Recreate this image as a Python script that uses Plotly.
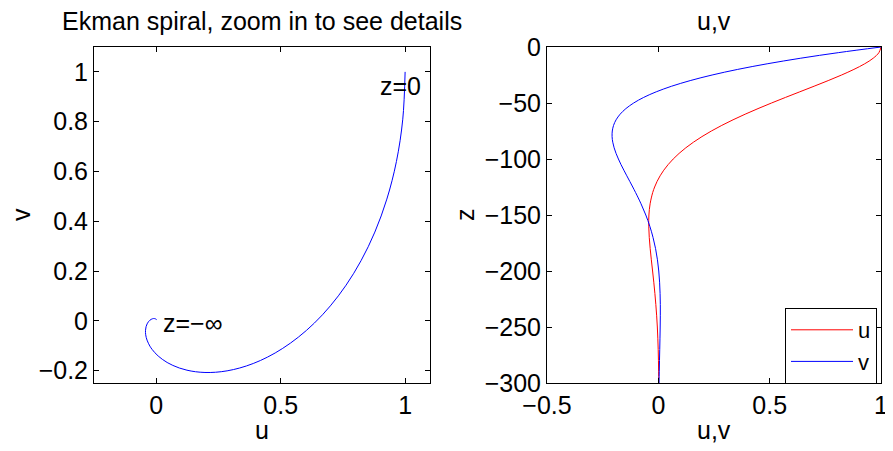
import plotly.graph_objects as go

# depth (m) and velocity components
z = [0, -5, -10, -15, -20, -25, -30, -35, -40, -45, -50, -55, -60, -65, -70,
     -75, -80, -85, -90, -95, -100, -105, -110, -115, -120, -125, -130, -140,
     -150, -160, -170, -180, -190, -200, -210, -220, -230, -240, -250, -260,
     -270, -280, -290, -300]
u = [1.0, 0.9906, 0.9651, 0.9266, 0.8784, 0.8230, 0.7628, 0.6997, 0.6354,
     0.5712, 0.5083, 0.4477, 0.3899, 0.3355, 0.2849, 0.2383, 0.1959, 0.1577,
     0.1234, 0.0932, 0.0667, 0.0439, 0.0244, 0.0080, -0.0056, -0.0166,
     -0.0254, -0.0369, -0.0423, -0.0431, -0.0408, -0.0366, -0.0314, -0.0258,
     -0.0204, -0.0155, -0.0112, -0.0075, -0.0045, -0.0023, -0.0006, 0.0005,
     0.0013, 0.0017]
v = [1.0, 0.8100, 0.6397, 0.4888, 0.3564, 0.2415, 0.1431, 0.0599, -0.0093,
     -0.0657, -0.1108, -0.1457, -0.1716, -0.1897, -0.2011, -0.2068, -0.2077,
     -0.2047, -0.1985, -0.1899, -0.1793, -0.1676, -0.1548, -0.1416, -0.1282,
     -0.1149, -0.1020, -0.0777, -0.0563, -0.0383, -0.0238, -0.0124, -0.0040,
     0.0019, 0.0057, 0.0079, 0.0089, 0.0089, 0.0083, 0.0074, 0.0063, 0.0052,
     0.0041, 0.0031]

left_xticks = [0, 0.5, 1]
left_yticks = [-0.2, 0, 0.2, 0.4, 0.6, 0.8, 1]
right_xticks = [-0.5, 0, 0.5, 1]
right_yticks = [-300, -250, -200, -150, -100, -50, 0]

W, H = 877, 435
OFF = 8  # page body margin
FONT = "Liberation Sans, Arial, sans-serif"
FS = 25


def px(x):
    return (x - OFF) / W


def py(y):
    return 1 - (y - OFF) / H


fig = go.Figure()
fig.add_trace(go.Scatter(x=u, y=v, mode="lines", line=dict(color="#0000ff", width=1, shape="spline"),
                         showlegend=False, xaxis="x", yaxis="y"))
fig.add_trace(go.Scatter(x=u, y=z, mode="lines", name="u", line=dict(color="#ff0000", width=1, shape="spline"),
                         xaxis="x2", yaxis="y2"))
fig.add_trace(go.Scatter(x=v, y=z, mode="lines", name="v", line=dict(color="#0000ff", width=1, shape="spline"),
                         xaxis="x2", yaxis="y2"))

axcommon = dict(showline=True, linecolor="black", linewidth=1, mirror="ticks", ticks="inside",
                ticklen=5, tickcolor="black", showgrid=False, zeroline=False, automargin=False,
                ticklabeloverflow="allow",
                tickfont=dict(family=FONT, size=FS, color="black"))

top, bottom = 47, 383
fig.update_layout(
    width=W, height=H, margin=dict(l=0, r=0, t=0, b=0, autoexpand=False),
    paper_bgcolor="white", plot_bgcolor="white",
    font=dict(family=FONT, size=FS, color="black"),
    xaxis=dict(domain=[px(94), px(430)], range=[-0.25, 1.1], tickvals=left_xticks,
               ticktext=["0", "0.5", "1"], anchor="y", **axcommon),
    yaxis=dict(domain=[py(bottom), py(top)], range=[-0.25, 1.1], tickvals=left_yticks,
               ticktext=["\u22120.2", "0", "0.2", "0.4", "0.6", "0.8", "1"], anchor="x", **axcommon),
    xaxis2=dict(domain=[px(547), px(881)], range=[-0.5, 1], tickvals=right_xticks,
                ticktext=["\u22120.5", "0", "0.5", "1"], anchor="y2", **axcommon),
    yaxis2=dict(domain=[py(bottom), py(top)], range=[-300, 0], tickvals=right_yticks,
                ticktext=["\u2212300", "\u2212250", "\u2212200", "\u2212150", "\u2212100", "\u221250", "0"],
                anchor="x2", **axcommon),
    legend=dict(x=px(785), y=py(308), xanchor="left", yanchor="top", bgcolor="white",
                bordercolor="black", borderwidth=1, font=dict(family=FONT, size=22),
                tracegroupgap=0, itemwidth=62),
)

ann = [
    dict(text="Ekman spiral, zoom in to see details", x=px(262), y=py(21)),
    dict(text="u,v", x=px(714), y=py(21)),
    dict(text="u", x=px(262), y=py(430)),
    dict(text="u,v", x=px(714), y=py(430)),
    dict(text="v", x=px(21), y=py(215), textangle=-90),
    dict(text="z", x=px(465), y=py(215), textangle=-90),
]
for a in ann:
    fig.add_annotation(xref="paper", yref="paper", showarrow=False, xanchor="center", yanchor="middle",
                       font=dict(family=FONT, size=FS, color="black"), **a)

fig.add_annotation(xref="x", yref="y", x=0.98, y=0.943, text="z=0", showarrow=False,
                   xanchor="center", yanchor="middle", font=dict(family=FONT, size=FS, color="black"))
fig.add_annotation(xref="x", yref="y", x=0.02, y=-0.01, text="z=\u2212\u221e", showarrow=False,
                   xanchor="left", yanchor="middle", font=dict(family=FONT, size=FS, color="black"))

fig.write_html("out.html")
